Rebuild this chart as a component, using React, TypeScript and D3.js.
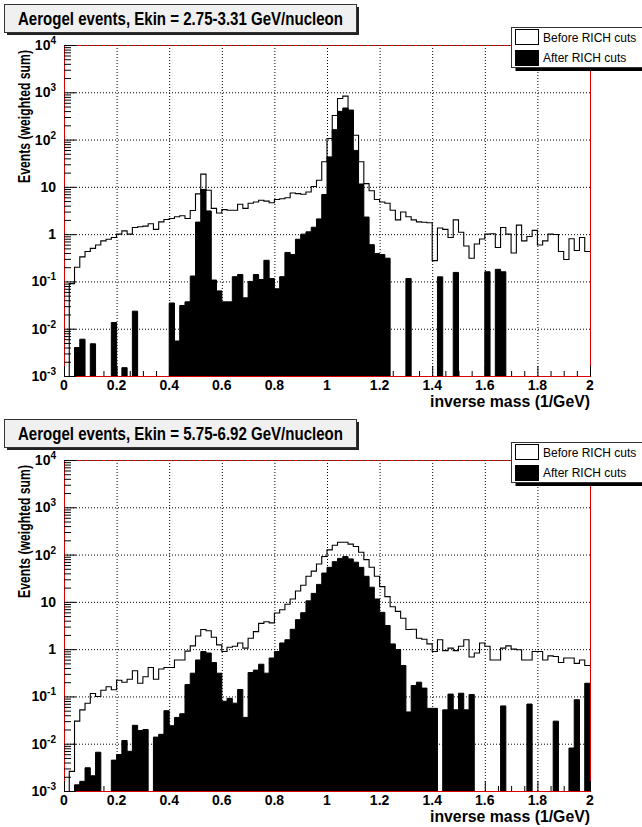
import React from "react";
import * as d3 from "d3";

// ---------- data ----------
const X_MIN = 0;
const X_MAX = 2;
const N_BINS = 100;

const X_TICKS = [0, 0.2, 0.4, 0.6, 0.8, 1, 1.2, 1.4, 1.6, 1.8, 2];
const X_TICK_LABELS = ["0", "0.2", "0.4", "0.6", "0.8", "1", "1.2", "1.4", "1.6", "1.8", "2"];
const Y_TICK_EXPONENTS = [-3, -2, -1, 0, 1, 2, 3, 4];
const Y_TICK_LABELS: { base: string; sup: string }[] = [
  { base: "10", sup: "-3" },
  { base: "10", sup: "-2" },
  { base: "10", sup: "-1" },
  { base: "1", sup: "" },
  { base: "10", sup: "" },
  { base: "10", sup: "2" },
  { base: "10", sup: "3" },
  { base: "10", sup: "4" },
];

const TITLES = [
  "Aerogel events, Ekin = 2.75-3.31 GeV/nucleon",
  "Aerogel events, Ekin = 5.75-6.92 GeV/nucleon",
];
const LEGEND_LABELS = ["Before RICH cuts", "After RICH cuts"];
const X_TITLE = "inverse mass (1/GeV)";
const Y_TITLE = "Events (weighted sum)";

const TOP_BEFORE = [
  0, 0.09, 0.2, 0.33, 0.43, 0.5, 0.59, 0.72, 0.78, 0.85,
  1.0, 1.17, 1.0, 1.38, 1.43, 1.48, 1.66, 1.26, 1.82, 2.04,
  2.14, 2.34, 2.45, 2.14, 3.16, 7.1, 18.6, 8.5, 3.5, 2.8,
  3.3, 3.2, 3.2, 4.3, 3.5, 4.5, 4.8, 5.2, 5.0, 4.6,
  5.4, 5.6, 5.9, 7.4, 7.2, 7.0, 7.8, 10.2, 13.8, 34,
  105, 324, 740, 830, 417, 123, 34, 11.7, 8.3, 5.4,
  4.8, 4.5, 3.2, 2.0, 2.95, 2.34, 2.0, 1.82, 1.78, 1.74,
  0.275, 1.35, 1.26, 0.85, 2.0, 1.1, 0.56, 0.31, 0.62, 0.79,
  1.0, 1.02, 0.52, 1.38, 1.0, 0.4, 1.55, 0.72, 0.89, 1.2,
  0.59, 0.72, 1.0, 0.98, 0.43, 0.29, 0.8, 0.45, 0.85, 0.43,
];

const TOP_AFTER = [
  0, 0, 0.004, 0.006, 0, 0.0048, 0, 0, 0, 0.0135,
  0, 0.0015, 0, 0.0235, 0, 0, 0, 0, 0, 0,
  0.035, 0.0055, 0.031, 0.037, 0.13, 1.8, 8.8, 3.1, 0.107, 0.063,
  0.037, 0.037, 0.126, 0.14, 0.045, 0.1, 0.14, 0.11, 0.28, 0.115,
  0.07, 0.126, 0.41, 0.37, 0.78, 1.0, 1.12, 1.4, 2.1, 6.9,
  43, 162, 395, 465, 417, 59, 11.5, 2.3, 0.6, 0.39,
  0.37, 0.31, 0, 0, 0, 0.115, 0, 0, 0, 0,
  0, 0.125, 0, 0, 0.155, 0, 0, 0, 0, 0,
  0.16, 0, 0.18, 0.16, 0, 0, 0, 0, 0, 0,
  0, 0, 0, 0, 0, 0, 0, 0, 0, 0,
];

const BOTTOM_BEFORE = [
  0, 0.0026, 0.03, 0.052, 0.072, 0.115, 0.1, 0.135, 0.16, 0.138,
  0.22, 0.2, 0.23, 0.35, 0.19, 0.26, 0.41, 0.23, 0.38, 0.41,
  0.41, 0.59, 0.59, 0.91, 1.17, 1.9, 2.6, 2.45, 1.78, 1.23,
  0.89, 1.1, 1.15, 1.35, 1.05, 1.7, 2.35, 3.5, 3.8, 3.6,
  5.8, 6.8, 8.9, 11.5, 17, 22.4, 34.7, 44.7, 63, 91,
  126, 158, 182, 182, 166, 148, 112, 78, 54, 34.7,
  21, 12.9, 7.9, 6.3, 4.5, 2.6, 2.63, 1.7, 1.62, 1.29,
  0.89, 1.58, 0.93, 1.05, 0.93, 1.15, 1.58, 0.68, 0.83, 1.35,
  1.15, 0.59, 0.59, 1.05, 1.17, 1.0, 0.97, 0.59, 0.59, 0.89,
  0.89, 0.59, 0.72, 0.7, 0.52, 0.65, 0.65, 0.5, 0.59, 0.45,
];

const BOTTOM_AFTER = [
  0, 0, 0.00135, 0.0016, 0.0031, 0.0021, 0.0066, 0, 0, 0.0045,
  0.0059, 0.0117, 0.0069, 0.0245, 0.019, 0.02, 0, 0.0138, 0.0158, 0.05,
  0.024, 0.036, 0.043, 0.178, 0.31, 0.59, 0.89, 0.83, 0.52, 0.31,
  0.079, 0.091, 0.072, 0.14, 0.036, 0.32, 0.36, 0.48, 0.31, 0.65,
  0.89, 1.35, 1.58, 2.63, 4.2, 5.9, 10.5, 15.1, 23.4, 40.7,
  53.7, 70.8, 83, 91, 81, 69, 53.7, 34.7, 20.4, 11.5,
  6.0, 3.16, 1.29, 0.98, 0.45, 0.047, 0.17, 0.2, 0.15, 0.056,
  0.056, 0, 0.052, 0.112, 0.052, 0.117, 0.052, 0.11, 0, 0,
  0, 0, 0, 0.063, 0, 0, 0, 0, 0.069, 0,
  0, 0, 0, 0.03, 0, 0, 0.0081, 0.085, 0, 0.19,
];

// ---------- layout ----------
const W = 642;
const H = 827;
const FRAME = { left: 64, right: 590, top: 45, bottom: 376 };
const PANEL_OFFSET = 415;
const FONT = "'Liberation Sans', Arial, Helvetica, sans-serif";
const RED = "#d80000";

function Panel({ idx, before, after }: { idx: number; before: number[]; after: number[] }) {
  const oy = idx * PANEL_OFFSET;
  const top = FRAME.top + oy;
  const bottom = FRAME.bottom + oy;
  const x = d3.scaleLinear().domain([X_MIN, X_MAX]).range([FRAME.left, FRAME.right]);
  const y = d3.scaleLog().domain([1e-3, 1e4]).range([bottom, top]);
  const bw = (X_MAX - X_MIN) / N_BINS;
  const yv = (v: number) => (v > 0 ? y(v) : bottom + 3);

  const pts = (vals: number[]): [number, number][] => {
    const p: [number, number][] = vals.map((v, i) => [x(X_MIN + i * bw), yv(v)]);
    p.push([x(X_MAX), yv(vals[vals.length - 1])]);
    return p;
  };
  const stepLine = d3.line().curve(d3.curveStepAfter)(pts(before)) || "";
  const stepArea =
    d3
      .area<[number, number]>()
      .curve(d3.curveStepAfter)
      .x((d) => d[0])
      .y0(bottom + 3)
      .y1((d) => d[1])(pts(after)) || "";

  const clipId = `clip${idx}`;
  const minorY: number[] = [];
  for (let e = -3; e < 4; e++) for (let m = 2; m <= 9; m++) minorY.push(m * Math.pow(10, e));
  const minorX: number[] = [];
  for (let k = 0; k <= 40; k++) if (k % 4 !== 0) minorX.push(k * 0.05);

  const legX = 511.5;
  const legY = 27 + oy;

  return (
    <g>
      <defs>
        <clipPath id={clipId}>
          <rect x={FRAME.left} y={top} width={FRAME.right - FRAME.left} height={bottom - top} />
        </clipPath>
      </defs>
      {/* grid */}
      <g stroke="#000" strokeWidth={1} strokeDasharray="1,2" fill="none">
        {X_TICKS.slice(1, -1).map((t) => (
          <line key={"gx" + t} x1={x(t) + 0.5} x2={x(t) + 0.5} y1={top} y2={bottom} />
        ))}
        {Y_TICK_EXPONENTS.slice(1).map((e) => (
          <line key={"gy" + e} x1={FRAME.left} x2={FRAME.right} y1={y(Math.pow(10, e)) + 0.5} y2={y(Math.pow(10, e)) + 0.5} />
        ))}
      </g>
      {/* histograms */}
      <g clipPath={`url(#${clipId})`}>
        <path d={stepArea} fill="#000" stroke="#000" strokeWidth={1} />
        <path d={stepLine} fill="none" stroke="#000" strokeWidth={1.1} />
      </g>
      {/* frame */}
      <rect x={FRAME.left + 0.5} y={top + 0.5} width={FRAME.right - FRAME.left} height={bottom - top} fill="none" stroke={RED} strokeWidth={1} />
      <line x1={FRAME.left} x2={FRAME.right} y1={top + 0.5} y2={top + 0.5} stroke="#333" strokeWidth={1} strokeDasharray="1,2" />
      {/* ticks */}
      <g stroke="#000" strokeWidth={1}>
        {X_TICKS.map((t) => (
          <line key={"tx" + t} x1={x(t) + 0.5} x2={x(t) + 0.5} y1={bottom} y2={bottom - 10} />
        ))}
        {minorX.map((t) => (
          <line key={"mx" + t} x1={x(t) + 0.5} x2={x(t) + 0.5} y1={bottom} y2={bottom - 5} />
        ))}
        {Y_TICK_EXPONENTS.map((e) => (
          <line key={"ty" + e} x1={FRAME.left} x2={FRAME.left + 12} y1={y(Math.pow(10, e)) + 0.5} y2={y(Math.pow(10, e)) + 0.5} />
        ))}
        {minorY.map((v) => (
          <line key={"my" + v} x1={FRAME.left} x2={FRAME.left + 7} y1={y(v) + 0.5} y2={y(v) + 0.5} />
        ))}
      </g>
      {/* tick labels */}
      <g fontFamily={FONT} fontWeight="bold" fill="#000">
        {X_TICKS.map((t, i) => (
          <text key={"lx" + t} x={x(t)} y={bottom + 14} fontSize={14} textAnchor="middle">
            {X_TICK_LABELS[i]}
          </text>
        ))}
        {Y_TICK_EXPONENTS.map((e, i) => (
          <text key={"ly" + e} x={56} y={y(Math.pow(10, e)) + 5} fontSize={14} textAnchor="end">
            {Y_TICK_LABELS[i].base}
            {Y_TICK_LABELS[i].sup ? (
              <tspan fontSize={10} dy={-6}>
                {Y_TICK_LABELS[i].sup}
              </tspan>
            ) : null}
          </text>
        ))}
        <text x={FRAME.right} y={bottom + 31} fontSize={16} textAnchor="end" textLength={160} lengthAdjust="spacingAndGlyphs">
          {X_TITLE}
        </text>
        <text
          transform={`translate(30, ${50 + oy}) rotate(-90)`}
          fontSize={16.5}
          textAnchor="end"
          textLength={133}
          lengthAdjust="spacingAndGlyphs"
        >
          {Y_TITLE}
        </text>
      </g>
      {/* title */}
      <rect x={7} y={7 + oy} width={352} height={28} fill="#222" />
      <rect x={4.5} y={4.5 + oy} width={352} height={28} fill="#f0f0f0" stroke="#333" strokeWidth={1} />
      <text
        x={180.5}
        y={25 + oy}
        fontFamily={FONT}
        fontWeight="bold"
        fontSize={18.5}
        textAnchor="middle"
        textLength={325}
        lengthAdjust="spacingAndGlyphs"
        fill="#000"
      >
        {TITLES[idx]}
      </text>
      {/* legend */}
      <rect x={legX + 4} y={legY + 4} width={140} height={40} fill="#000" />
      <rect x={legX} y={legY + 0.5} width={140} height={40} fill="#fff" stroke="#333" strokeWidth={1} />
      <rect x={515.5} y={legY + 2.5} width={23} height={15} fill="#fff" stroke="#000" strokeWidth={1} />
      <rect x={515.5} y={legY + 23.5} width={23} height={15} fill="#000" stroke="#000" strokeWidth={1} />
      <text x={543} y={legY + 14.5} fontFamily={FONT} fontSize={12} fill="#000">
        {LEGEND_LABELS[0]}
      </text>
      <text x={543} y={legY + 35} fontFamily={FONT} fontSize={12} fill="#000">
        {LEGEND_LABELS[1]}
      </text>
    </g>
  );
}

export default function App() {
  return (
    <svg
      width={W}
      height={H}
      viewBox={`0 0 ${W} ${H}`}
      style={{ position: "absolute", left: 0, top: 0, background: "#fff" }}
    >
      <rect x={0} y={0} width={W} height={H} fill="#fff" />
      <Panel idx={0} before={TOP_BEFORE} after={TOP_AFTER} />
      <Panel idx={1} before={BOTTOM_BEFORE} after={BOTTOM_AFTER} />
    </svg>
  );
}
